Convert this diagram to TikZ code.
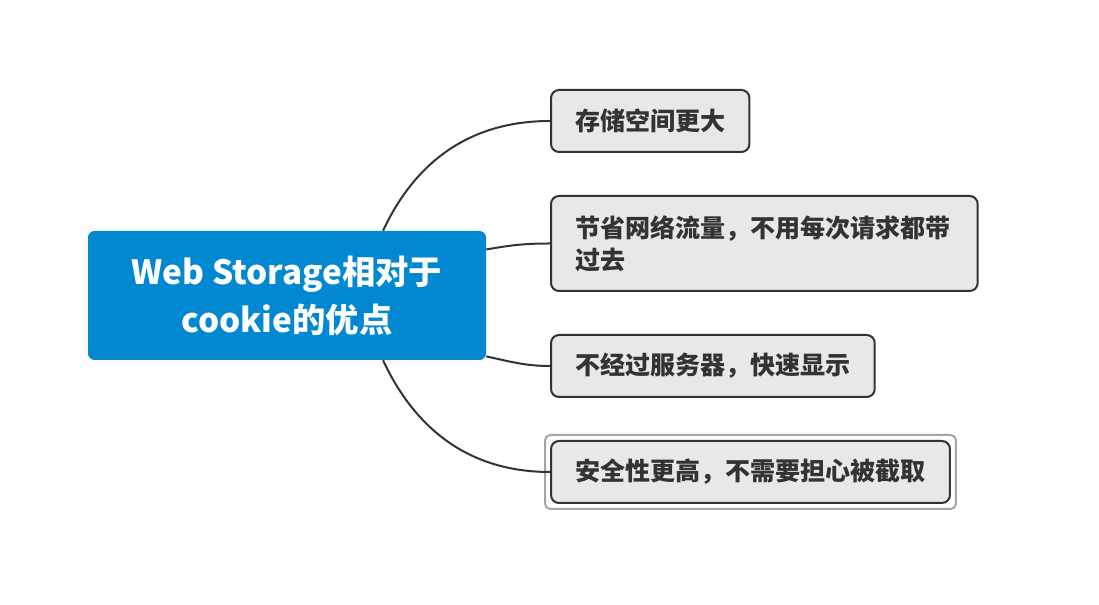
\documentclass[tikz,border=0pt]{standalone}
\usepackage{fontspec}
\setmainfont{Noto Sans CJK SC}
\usepackage{tikz}
\usetikzlibrary{positioning}
\definecolor{topicblue}{HTML}{0288D1}
\definecolor{leafgray}{HTML}{E8E8E8}
\definecolor{linegray}{HTML}{333333}
\definecolor{selgray}{HTML}{A5A5A5}

\begin{document}
\begin{tikzpicture}[x=0.75pt,y=0.75pt,
        topic/.style={rectangle,fill=topicblue,text=white,rounded corners=5pt,
                minimum width=298.5pt,minimum height=96.75pt,align=center,
                font=\bfseries\fontsize{25}{36}\selectfont},
        leaf/.style={rectangle,draw=linegray,line width=1.5pt,fill=leafgray,
                text=linegray,rounded corners=6pt,anchor=west,inner xsep=18pt,
                minimum height=46.5pt,align=left,
                font=\bfseries\fontsize{18.8}{24}\selectfont},
        branch/.style={draw=linegray,line width=1.5pt}]
        \useasboundingbox (0,0) rectangle (1099,605);

        \node [topic] (0) at (287,309.5) {Web Storage相对于\\cookie的优点};
        \node [leaf] (1) at (550,484) {存储空间更大};
        \node [leaf,text width=284pt,minimum height=71.25pt] (2) at (550,361.5)
                {节省网络流量，不用每次请求都带\\过去};
        \node [leaf] (3) at (550,239) {不经过服务器，快速显示};
        \node [leaf] (4) at (550,133) {安全性更高，不需要担心被截取};

        % selection frame
        \draw [selgray,line width=1.5pt,rounded corners=4pt]
                ([shift={(-5,-5)}]4.south west) rectangle ([shift={(5,5)}]4.north east);

        \draw [branch] (0.34) to[out=65,in=180] (1.west);
        \draw [branch] (0.13) to[out=10,in=180] (2.west);
        \draw [branch] (0.-17) to[out=-12,in=180] (3.west);
        \draw [branch] (0.-34) to[out=-65,in=180] (4.west);
    \end{tikzpicture}
\end{document}
